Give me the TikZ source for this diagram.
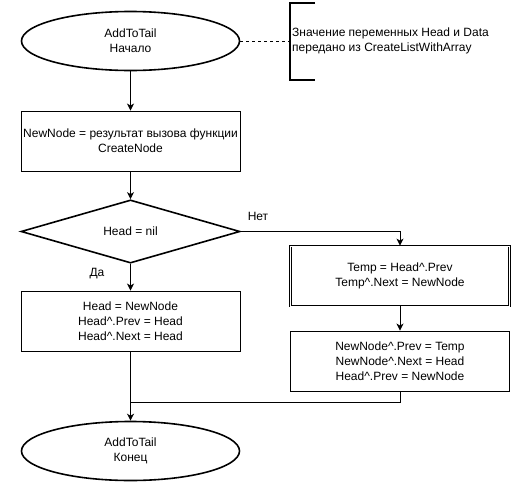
\documentclass[tikz,border=0pt]{standalone}
\usepackage{fontspec}
\setmainfont{Liberation Sans}
\usetikzlibrary{shapes.geometric,arrows.meta}

\tikzset{
  terminal/.style={ellipse, draw, line width=1.6pt, minimum width=218pt, minimum height=59pt, inner sep=0pt, align=center},
  process/.style={rectangle, draw, line width=0.9pt, minimum width=219pt, minimum height=60pt, inner sep=0pt, align=center},
  decision/.style={diamond, draw, line width=1.6pt, minimum width=219pt, minimum height=61pt, inner sep=0pt, align=center},
  flow/.style={line width=0.9pt, -{Stealth[length=7pt,width=7pt,inset=2pt]}},
  link/.style={line width=0.9pt},
}

\begin{document}
\begin{tikzpicture}[x=1pt, y=-1pt, font=\fontsize{12}{15}\selectfont]
    \useasboundingbox (0,0) rectangle (511,482);
    \node[terminal] (start) at (130.5,41) {AddToTail\\Начало};
    \node[process] (init) at (130.5,141) {NewNode = результат вызова функции\\CreateNode};
    \node[decision] (check) at (130.5,231.5) {Head = nil};
    \node[process] (first) at (130.5,321) {Head = NewNode\\Head\^{}.Prev = Head\\Head\^{}.Next = Head};
    \node[process, minimum width=219pt, double, double distance=0.9pt, line width=0.8pt] (temp) at (400,276) {Temp = Head\^{}.Prev\\Temp\^{}.Next = NewNode};
    \node[process] (relink) at (400,361) {NewNode\^{}.Prev = Temp\\NewNode\^{}.Next = Head\\Head\^{}.Prev = NewNode};
    \node[terminal] (stop) at (130.5,451) {AddToTail\\Конец};
    \coordinate (join) at (130.5,402);
    \coordinate (note) at (290,41);
    % comment bracket
    \draw[line width=1.8pt] (315,3) -- (290,3) -- (290,80) -- (315,80);
    \node[anchor=west, align=left, inner sep=0pt] (notetext) at (292,41) {Значение переменных Head и Data\\передано из CreateListWithArray};
    \draw[link, dashed] (start.east) -- (note);
    % flow
    \draw[flow] (start) -- (init);
    \draw[flow] (init) -- (check);
    \draw[flow] (check.east) -| (temp.north);
    \node (no) at (258,216) {Нет};
    \draw[flow] (check.south) -- (first.north);
    \node (yes) at (97,274) {Да};
    \draw[flow] (temp) -- (relink);
    \draw[link] (relink.south) |- (join);
    \draw[flow] (first.south) -- (stop.north);
\end{tikzpicture}
\end{document}
